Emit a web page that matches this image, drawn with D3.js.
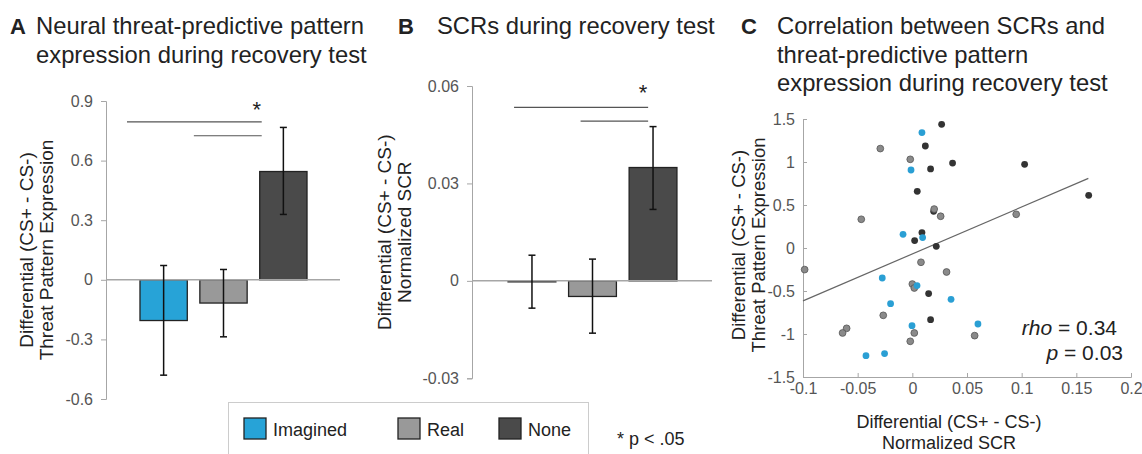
<!DOCTYPE html>
<html>
<head>
<meta charset="utf-8">
<script src="https://cdn.jsdelivr.net/npm/d3@7.9.0/dist/d3.min.js"></script>
<style>
  body { margin: 0; background: #fff; }
  svg { display: block; font-family: "Liberation Sans", Arial, sans-serif; }
</style>
</head>
<body>
<svg id="fig" width="1142" height="454"></svg>
<script>
// ---- data ----
const groups = ["Imagined", "Real", "None"];
const groupColors = ["#27a3d7", "#999999", "#4a4a4a"];

// panel A: threat pattern expression
const patternMean = [-0.205, -0.117, 0.545];
const patternLow = [-0.48, -0.287, 0.329];
const patternHigh = [0.072, 0.052, 0.767];
const patternTicks = [-0.6, -0.3, 0, 0.3, 0.6, 0.9];

// panel B: SCRs
const scrMean = [-0.0003, -0.0048, 0.0349];
const scrLow = [-0.0084, -0.0161, 0.022];
const scrHigh = [0.0079, 0.0067, 0.0475];
const scrTicks = [-0.03, 0, 0.03, 0.06];

// panel C: scatter (x = SCR, y = pattern expression, g = group)
const scatterX = [0.0268, 0.0088, 0.0119, -0.0293, -0.0019, -0.0012, 0.0167, 0.0368, 0.1027, 0.0045,
  0.1613, 0.0195, 0.02, 0.0259, 0.095, -0.0467, -0.0085, 0.0088, 0.0094, 0.0021,
  0.0219, -0.0985, 0.0079, 0.0313, -0.0275, 0.0, 0.0018, 0.0043, 0.0149, -0.0199,
  0.0354, -0.0266, 0.0167, -0.0003, 0.06, -0.0601, -0.0638, 0.0018, 0.057, -0.0019,
  -0.0424, -0.0254];
const scatterY = [1.438, 1.342, 1.186, 1.156, 1.031, 0.907, 0.919, 0.988, 0.973, 0.659,
  0.613, 0.427, 0.453, 0.369, 0.392, 0.334, 0.159, 0.179, 0.121, 0.086,
  0.02, -0.251, -0.166, -0.279, -0.349, -0.419, -0.465, -0.437, -0.53, -0.647,
  -0.597, -0.783, -0.833, -0.903, -0.884, -0.934, -0.988, -0.988, -1.019, -1.085,
  -1.252, -1.228];
const scatterG = ["None", "Imagined", "None", "Real", "Real", "Imagined", "None", "None", "None", "None",
  "None", "None", "Real", "Real", "Real", "Real", "Imagined", "None", "Imagined", "None",
  "None", "Real", "Real", "Real", "Imagined", "Real", "Real", "Imagined", "None", "Imagined",
  "Imagined", "Real", "None", "Imagined", "Imagined", "Real", "Real", "Real", "Real", "Real",
  "Imagined", "Imagined"];
const fitX = [-0.1, 0.161];
const fitY = [-0.615, 0.81];
const scatterXTicks = [-0.1, -0.05, 0, 0.05, 0.1, 0.15, 0.2];
const scatterYTicks = [-1.5, -1, -0.5, 0, 0.5, 1, 1.5];

const svg = d3.select("#fig");
const textCol = "#222";
const tickCol = "#555";
const axisCol = "#a6a6a6";
const color = d3.scaleOrdinal().domain(groups).range(groupColors);
const dotColor = d3.scaleOrdinal().domain(groups).range(["#2a9fd4", "#8a8a8a", "#333333"]);

// plain hyphen as minus sign, like the original figure
const hy = s => s.replace("\u2212", "-");

// ---- titles ----
function title(x, y, letter, lines, indent) {
  const g = svg.append("g").attr("transform", `translate(${x},${y})`);
  g.append("text").attr("font-size", 22).attr("font-weight", "bold").attr("fill", textCol).text(letter);
  lines.forEach((l, i) => {
    g.append("text").attr("x", indent).attr("y", i * 28.5)
      .attr("font-size", 23.8).attr("fill", textCol).text(l);
  });
}
title(10, 34, "A", ["Neural threat-predictive pattern", "expression during recovery test"], 26);
title(398, 34, "B", ["SCRs during recovery test"], 39);
title(741, 34, "C", ["Correlation between SCRs and", "threat-predictive pattern", "expression during recovery test"], 36);

// ---- bar panel helper ----
function barPanel(opts) {
  const { x0, y, xRange, zeroEnd, means, lows, highs, ticks, fmt, labelX, labels, sig, star } = opts;
  const xb = d3.scaleBand().domain(groups).range(xRange).paddingInner(0.21).paddingOuter(0.1);
  const g = svg.append("g");

  const axis = d3.axisLeft(y).tickValues(ticks).tickFormat(fmt).tickSize(5).tickPadding(8);
  const ax = g.append("g").attr("transform", `translate(${x0},0)`).call(axis);
  ax.select(".domain").attr("stroke", axisCol);
  ax.selectAll(".tick line").attr("stroke", axisCol);
  ax.selectAll(".tick text").attr("fill", tickCol).attr("font-size", 16)
    .attr("font-family", "Liberation Sans, Arial, sans-serif");

  // bars
  g.selectAll("rect.bar").data(groups).join("rect")
    .attr("x", d => xb(d))
    .attr("width", xb.bandwidth())
    .attr("y", (d, i) => Math.min(y(means[i]), y(0)))
    .attr("height", (d, i) => Math.max(1, Math.abs(y(means[i]) - y(0))))
    .attr("fill", d => color(d))
    .attr("stroke", "#222").attr("stroke-width", 1.3);

  // zero line
  g.append("line").attr("x1", x0).attr("x2", zeroEnd).attr("y1", y(0)).attr("y2", y(0))
    .attr("stroke", axisCol).attr("stroke-width", 1.5);

  // error bars
  groups.forEach((d, i) => {
    const cx = xb(d) + xb.bandwidth() / 2;
    const e = g.append("g").attr("stroke", "#111").attr("stroke-width", 1.5);
    e.append("line").attr("x1", cx).attr("x2", cx).attr("y1", y(lows[i])).attr("y2", y(highs[i]));
    e.append("line").attr("x1", cx - 3.5).attr("x2", cx + 3.5).attr("y1", y(lows[i])).attr("y2", y(lows[i]));
    e.append("line").attr("x1", cx - 3.5).attr("x2", cx + 3.5).attr("y1", y(highs[i])).attr("y2", y(highs[i]));
  });

  // significance lines
  sig.forEach(s => {
    g.append("line")
      .attr("x1", xb(s.from) + s.dx1).attr("x2", xb(s.to) + s.dx2)
      .attr("y1", y(s.v)).attr("y2", y(s.v))
      .attr("stroke", "#555").attr("stroke-width", 1.2);
  });
  g.append("text").attr("x", xb("None") + star.dx).attr("y", y(star.v))
    .attr("text-anchor", "middle").attr("font-size", 22).attr("fill", textCol).text("*");

  // y label
  const lab = g.append("text").attr("transform", `translate(${labelX},${(y.range()[0] + y.range()[1]) / 2}) rotate(-90)`)
    .attr("text-anchor", "middle").attr("font-size", 19).attr("fill", textCol);
  labels.forEach((l, i) => lab.append("tspan").attr("x", 0).attr("dy", i === 0 ? 0 : 20).text(l));
}

barPanel({
  x0: 106,
  y: d3.scaleLinear().domain([-0.6, 0.9]).range([399, 101]),
  xRange: [134, 313], zeroEnd: 340,
  means: patternMean, lows: patternLow, highs: patternHigh,
  ticks: patternTicks, fmt: d => d === 0 ? "0" : hy(d3.format(".1f")(d)),
  labelX: 33, labels: ["Differential (CS+ - CS-)", "Threat Pattern Expression"],
  sig: [{ from: "Imagined", to: "None", v: 0.795, dx1: -13, dx2: 2 },
        { from: "Real", to: "None", v: 0.725, dx1: -6, dx2: 2 }],
  star: { v: 0.82, dx: -3 }
});

barPanel({
  x0: 472,
  y: d3.scaleLinear().domain([-0.03, 0.06]).range([378.3, 86]),
  xRange: [502, 683], zeroEnd: 712,
  means: scrMean, lows: scrLow, highs: scrHigh,
  ticks: scrTicks, fmt: d => d === 0 ? "0" : hy(d3.format(".2f")(d)),
  labelX: 391, labels: ["Differential (CS+ - CS-)", "Normalized SCR"],
  sig: [{ from: "Imagined", to: "None", v: 0.0534, dx1: 6, dx2: 19 },
        { from: "Real", to: "None", v: 0.0492, dx1: 12, dx2: 19 }],
  star: { v: 0.0558, dx: 14 }
});

// ---- scatter panel ----
const xC = d3.scaleLinear().domain([-0.1, 0.2]).range([803, 1131]);
const yC = d3.scaleLinear().domain([-1.5, 1.5]).range([377, 119]);
const gc = svg.append("g");

const xAx = gc.append("g").attr("transform", `translate(0,${yC(-1.5)})`)
  .call(d3.axisBottom(xC).tickValues(scatterXTicks).tickFormat(d => String(+d.toFixed(2))).tickSize(-4).tickPadding(6));
const yAx = gc.append("g").attr("transform", `translate(${xC(-0.1)},0)`)
  .call(d3.axisLeft(yC).tickValues(scatterYTicks).tickFormat(d => String(d)).tickSize(-4).tickPadding(8));
[xAx, yAx].forEach(a => {
  a.select(".domain").attr("stroke", axisCol);
  a.selectAll(".tick line").attr("stroke", axisCol);
  a.selectAll(".tick text").attr("fill", tickCol).attr("font-size", 16)
    .attr("font-family", "Liberation Sans, Arial, sans-serif");
});

gc.append("line")
  .attr("x1", xC(fitX[0])).attr("y1", yC(fitY[0]))
  .attr("x2", xC(fitX[1])).attr("y2", yC(fitY[1]))
  .attr("stroke", "#666").attr("stroke-width", 1.2);

gc.selectAll("circle").data(scatterX.map((x, i) => ({ x, y: scatterY[i], g: scatterG[i] }))).join("circle")
  .attr("cx", d => xC(d.x)).attr("cy", d => yC(d.y)).attr("r", 3.4)
  .attr("fill", d => dotColor(d.g))
  .attr("stroke", d => d.g === "Real" ? "#555" : "none").attr("stroke-width", 0.8);

const rho = gc.append("text").attr("x", 1117).attr("y", 335).attr("text-anchor", "end")
  .attr("font-size", 21).attr("fill", textCol);
rho.append("tspan").attr("font-style", "italic").text("rho");
rho.append("tspan").text(" = 0.34");
const pv = gc.append("text").attr("x", 1123).attr("y", 360).attr("text-anchor", "end")
  .attr("font-size", 21).attr("fill", textCol);
pv.append("tspan").attr("font-style", "italic").text("p");
pv.append("tspan").text(" = 0.03");

const yl = gc.append("text").attr("transform", `translate(745,245) rotate(-90)`)
  .attr("text-anchor", "middle").attr("font-size", 18.5).attr("fill", textCol);
["Differential (CS+ - CS-)", "Threat Pattern Expression"].forEach((l, i) =>
  yl.append("tspan").attr("x", 0).attr("dy", i === 0 ? 0 : 20).text(l));
const xl = gc.append("text").attr("x", 949).attr("y", 428)
  .attr("text-anchor", "middle").attr("font-size", 18).attr("fill", textCol);
["Differential (CS+ - CS-)", "Normalized SCR"].forEach((l, i) =>
  xl.append("tspan").attr("x", 949).attr("dy", i === 0 ? 0 : 21).text(l));

// ---- legend ----
const lg = svg.append("g");
lg.append("rect").attr("x", 228.5).attr("y", 402.5).attr("width", 360).attr("height", 70)
  .attr("fill", "none").attr("stroke", "#ccc");
const legendX = d3.scaleOrdinal().domain(groups).range([244, 398, 499]);
groups.forEach(d => {
  lg.append("rect").attr("x", legendX(d)).attr("y", 418).attr("width", 22).attr("height", 21)
    .attr("fill", color(d)).attr("stroke", "#222").attr("stroke-width", 1.3);
  lg.append("text").attr("x", legendX(d) + 29).attr("y", 436).attr("font-size", 18)
    .attr("fill", textCol).text(d);
});
lg.append("text").attr("x", 617).attr("y", 445).attr("font-size", 18).attr("fill", textCol).text("* p < .05");
</script>
</body>
</html>
